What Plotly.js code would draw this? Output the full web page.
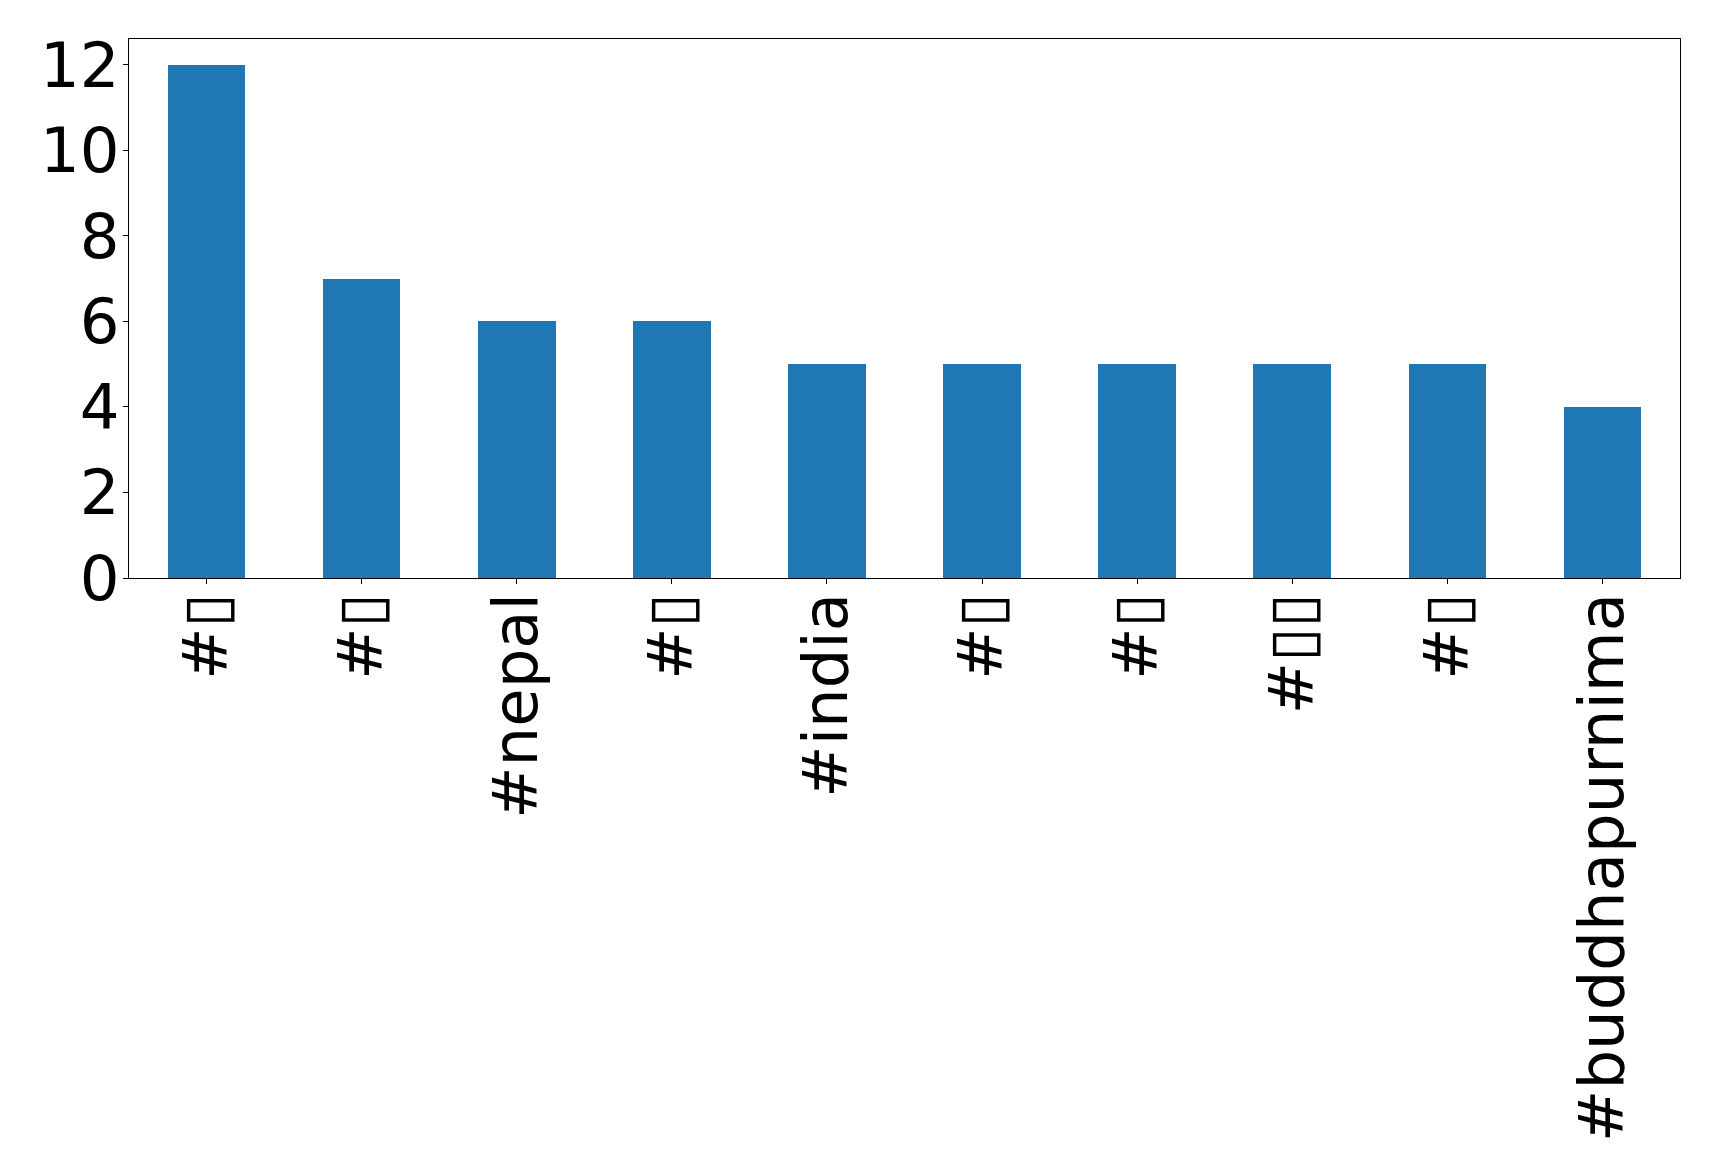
<!DOCTYPE html>
<html>
<head>
<meta charset="utf-8">
<script src="https://cdn.plot.ly/plotly-3.0.1.min.js"></script>
<style>html,body{margin:0;padding:0;background:#fff;}#chart{width:1719px;height:1176px;}</style>
</head>
<body>
<div id="chart"></div>
<script>
const hashtags = ["#\u25AF", "#\u25AF", "#nepal", "#\u25AF", "#india", "#\u25AF", "#\u25AF", "#\u25AF\u25AF", "#\u25AF", "#buddhapurnima"];
const counts = [12, 7, 6, 6, 5, 5, 5, 5, 5, 4];
const yTicks = [0, 2, 4, 6, 8, 10, 12];

const positions = hashtags.map((_, i) => i);

const trace = {
  type: "bar",
  x: positions,
  y: counts,
  width: 0.5,
  marker: {color: "#1f77b4", line: {width: 0}},
  hoverinfo: "skip"
};

const fontFam = "DejaVu Sans, sans-serif";
const layout = {
  width: 1719,
  height: 1176,
  margin: {l: 129, r: 39, t: 39, b: 598, pad: 0, autoexpand: false},
  paper_bgcolor: "#fff",
  plot_bgcolor: "#fff",
  showlegend: false,
  bargap: 0,
  xaxis: {
    range: [-0.5, 9.5],
    automargin: false,
    tickmode: "array",
    tickvals: positions,
    ticktext: hashtags,
    tickangle: -90,
    ticks: "outside",
    ticklen: 5,
    tickwidth: 1,
    tickcolor: "#000",
    ticklabelstandoff: -16,
    showline: true,
    linecolor: "#000",
    linewidth: 1,
    mirror: true,
    showgrid: false,
    zeroline: false,
    tickfont: {family: fontFam, size: 62.5, color: "#000"},
    fixedrange: true
  },
  yaxis: {
    range: [0, 12.6],
    automargin: false,
    tickmode: "array",
    tickvals: yTicks,
    ticktext: yTicks.map(String),
    ticks: "outside",
    ticklen: 5,
    tickwidth: 1,
    tickcolor: "#000",
    ticklabelstandoff: -9,
    showline: true,
    linecolor: "#000",
    linewidth: 1,
    mirror: true,
    showgrid: false,
    zeroline: false,
    tickfont: {family: fontFam, size: 62.5, color: "#000"},
    fixedrange: true
  }
};

Plotly.newPlot("chart", [trace], layout, {displayModeBar: false, staticPlot: true});
</script>
</body>
</html>
